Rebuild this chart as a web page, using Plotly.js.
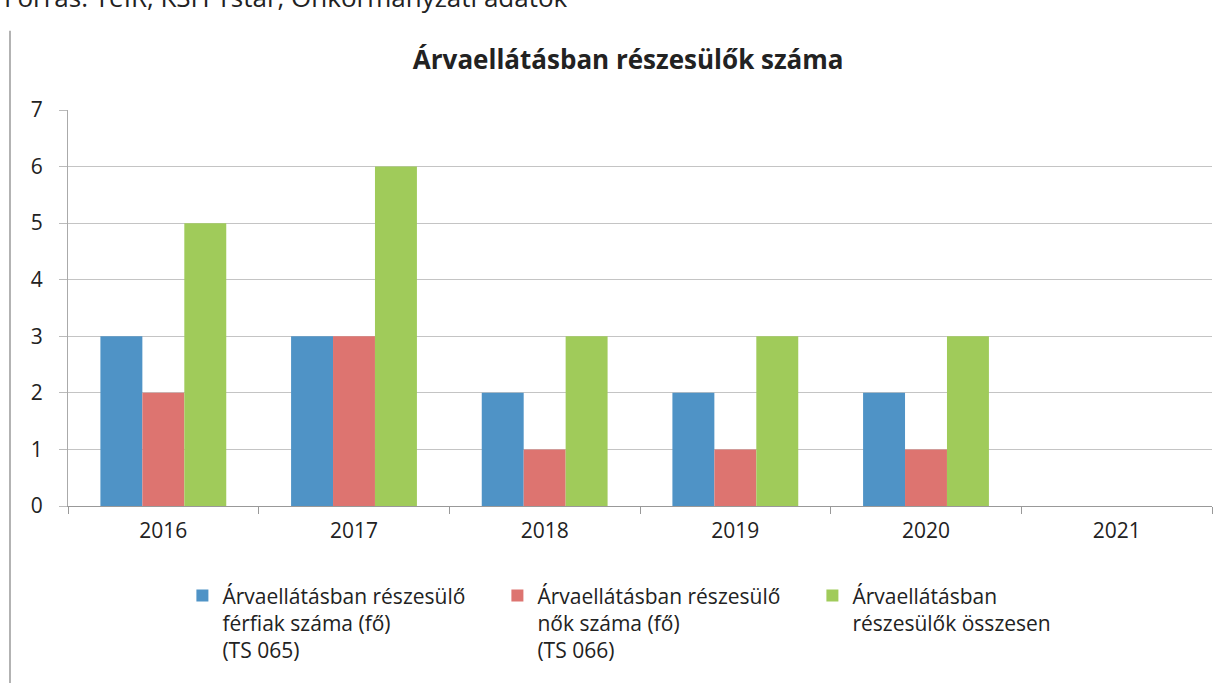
<!DOCTYPE html>
<html>
<head>
<meta charset="utf-8">
<script src="https://cdn.plot.ly/plotly-3.0.1.min.js"></script>
<style>
  body { margin: 0; background: #fff; }
  #chart { width: 1227px; height: 683px; }
</style>
</head>
<body>
<div id="chart"></div>
<script>
// years on the category axis
let years = ['2016', '2017', '2018', '2019', '2020', '2021'];

// series values (2021 has no data)
let ferfiak = [3, 3, 2, 2, 2, 0];
let nok = [2, 3, 1, 1, 1, 0];
let osszesen = [5, 6, 3, 3, 3, 0];

let seriesNames = [
    'Árvaellátásban részesülő<br>férfiak száma (fő)<br>(TS 065)',
    'Árvaellátásban részesülő<br>nők száma (fő)<br>(TS 066)',
    'Árvaellátásban<br>részesülők összesen'
];

let fontFamily = '"Open Sans", "Noto Sans", sans-serif';

let data = [
    { x: years, y: ferfiak, name: seriesNames[0], type: 'bar', marker: { color: '#4f93c6' } },
    { x: years, y: nok, name: seriesNames[1], type: 'bar', marker: { color: '#dd7470' } },
    { x: years, y: osszesen, name: seriesNames[2], type: 'bar', marker: { color: '#a0cb5a' } }
];

let layout = {
    width: 1227,
    height: 683,
    margin: { l: 68, r: 15, t: 110, b: 177, autoexpand: false },
    paper_bgcolor: '#ffffff',
    plot_bgcolor: '#ffffff',
    font: { family: fontFamily, size: 21, color: '#222' },
    title: {
        text: '<b>Árvaellátásban részesülők száma</b>',
        font: { family: fontFamily, size: 26, color: '#222' },
        x: 0.512,
        xanchor: 'center',
        y: 0.912,
        yanchor: 'middle'
    },
    barmode: 'group',
    bargap: 0.34,
    bargroupgap: 0,
    xaxis: {
        type: 'category',
        showline: true,
        linecolor: '#999',
        ticks: 'outside',
        tickson: 'boundaries',
        ticklen: 7,
        tickcolor: '#999',
        showgrid: false,
        tickfont: { size: 21 },
        ticklabelstandoff: 6
    },
    yaxis: {
        range: [0, 7],
        dtick: 1,
        showline: true,
        linecolor: '#aaa',
        ticks: 'outside',
        ticklen: 8,
        tickcolor: '#bbb',
        gridcolor: '#c4c4c4',
        zeroline: false,
        tickfont: { size: 21 },
        ticklabelstandoff: 12
    },
    legend: {
        orientation: 'h',
        x: 0.1,
        xanchor: 'left',
        y: -0.175,
        yanchor: 'top',
        valign: 'top',
        entrywidth: 270,
        itemwidth: 14,
        font: { size: 21, color: '#222' },
        tracegroupgap: 0
    },
    shapes: [
        // left border of the pasted chart
        { type: 'line', xref: 'paper', yref: 'paper', x0: -0.0507, x1: -0.0507, y0: 1.2, y1: -0.45,
          line: { color: '#999', width: 1.5 } }
    ],
    annotations: [
        {
            text: 'Forrás: TeIR, KSH Tstar, Önkormányzati adatok',
            xref: 'paper', yref: 'paper',
            x: -0.058, xanchor: 'left',
            y: 1.235, yanchor: 'bottom',
            showarrow: false,
            font: { family: fontFamily, size: 26, color: '#222' }
        }
    ]
};

Plotly.newPlot('chart', data, layout, { displayModeBar: false });
</script>
</body>
</html>
